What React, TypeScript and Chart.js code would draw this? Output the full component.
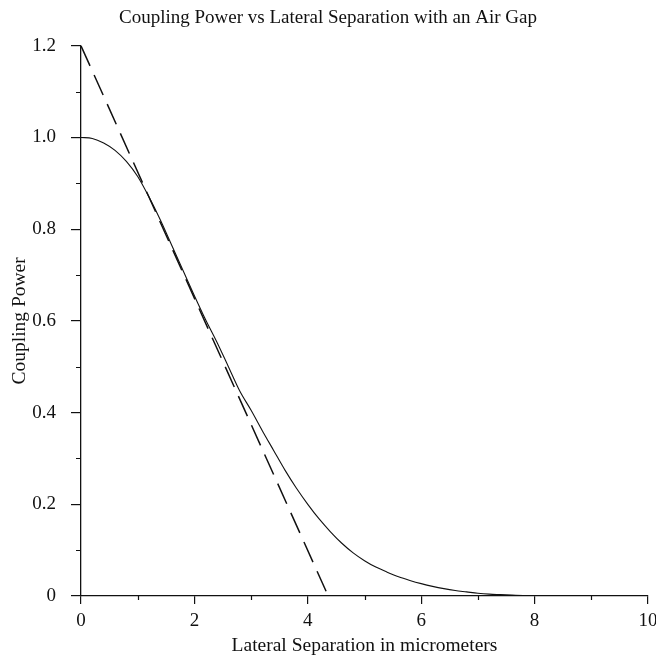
import React, { useEffect, useRef } from "react";
import { Chart, registerables } from "chart.js";

Chart.register(...registerables);

// Lateral offset (micrometers) and the coupled power
const separation = [
  0, 0.2, 0.4, 0.6, 0.8, 1.0, 1.2, 1.4, 1.6, 1.8, 2.0, 2.2, 2.4, 2.6, 2.8, 3.0,
  3.2, 3.4, 3.6, 3.8, 4.0, 4.2, 4.4, 4.6, 4.8, 5.0, 5.2, 5.4, 5.6, 5.8, 6.0, 6.2,
  6.4, 6.6, 6.8, 7.0, 7.2, 7.4, 7.6, 7.8,
];
const couplingPower = [
  1.0, 0.998, 0.988, 0.972, 0.948, 0.915, 0.87, 0.82, 0.765, 0.71, 0.655, 0.602,
  0.553, 0.5, 0.447, 0.405, 0.36, 0.317, 0.274, 0.235, 0.2, 0.168, 0.14, 0.115,
  0.094, 0.077, 0.063, 0.052, 0.042, 0.034, 0.027, 0.021, 0.016, 0.012, 0.009,
  0.006, 0.004, 0.003, 0.002, 0.001,
];

// Straight-line approximation (tangent through the inflection region)
const tangentX = [0, 4.36];
const tangentY = [1.2, 0];

const xTickLabels = ["0", "2", "4", "6", "8", "10"];
const yTickLabels = ["0", "0.2", "0.4", "0.6", "0.8", "1.0", "1.2"];
// Unlabelled minor tick positions between the labelled ones
const xMinorTicks = [1, 3, 5, 7, 9];
const yMinorTicks = [0.1, 0.3, 0.5, 0.7, 0.9, 1.1];

const SERIF = "'Liberation Serif', 'Times New Roman', serif";
const INK = "#111";

// Draws the short minor tick marks on both axes, placed by the chart's scales
const minorTicksPlugin = {
  id: "minorTicks",
  afterDraw(chart: any) {
    const { ctx, scales } = chart;
    const xs = scales.x;
    const ys = scales.y;
    ctx.save();
    ctx.strokeStyle = INK;
    ctx.lineWidth = 1.2;
    ctx.beginPath();
    for (const v of xMinorTicks) {
      const px = Math.round(xs.getPixelForValue(v)) + 0.5;
      ctx.moveTo(px, ys.bottom);
      ctx.lineTo(px, ys.bottom + 4);
    }
    for (const v of yMinorTicks) {
      const py = Math.round(ys.getPixelForValue(v)) + 0.5;
      ctx.moveTo(xs.left, py);
      ctx.lineTo(xs.left - 5, py);
    }
    ctx.stroke();
    ctx.restore();
  },
};

export default function App() {
  const canvasRef = useRef<HTMLCanvasElement | null>(null);

  useEffect(() => {
    const canvas = canvasRef.current;
    if (!canvas) return;
    const chart = new Chart(canvas, {
      type: "line",
      data: {
        datasets: [
          {
            label: "Coupling Power",
            data: separation.map((x, i) => ({ x, y: couplingPower[i] })),
            borderColor: INK,
            borderWidth: 1.1,
            pointRadius: 0,
            cubicInterpolationMode: "monotone",
            fill: false,
          },
          {
            label: "Linear approximation",
            data: tangentX.map((x, i) => ({ x, y: tangentY[i] })),
            borderColor: INK,
            borderWidth: 1.5,
            borderDash: [22, 10],
            pointRadius: 0,
            fill: false,
          },
        ],
      },
      plugins: [minorTicksPlugin],
      options: {
        animation: false,
        responsive: false,
        layout: { padding: { left: 8, right: 8, top: 0, bottom: 2 } },
        plugins: {
          legend: { display: false },
          tooltip: { enabled: false },
          title: {
            display: true,
            text: "Coupling Power vs Lateral Separation with an Air Gap",
            color: INK,
            font: { family: SERIF, size: 19, weight: "normal" },
            padding: { top: 7, bottom: 16 },
          },
        },
        scales: {
          x: {
            type: "linear",
            min: 0,
            max: 10,
            afterFit: (scale: any) => {
              scale.paddingRight = 0;
              scale.height = 62;
            },
            border: { display: true, color: INK, width: 1.3 },
            grid: {
              display: true,
              drawOnChartArea: false,
              drawTicks: true,
              tickLength: 8,
              color: INK,
              lineWidth: 1.2,
            },
            ticks: {
              stepSize: 2,
              color: INK,
              padding: 8,
              maxRotation: 0,
              autoSkip: false,
              font: { family: SERIF, size: 19, lineHeight: 1.0 },
              callback: (_v, i) => xTickLabels[i] ?? "",
            },
            title: {
              display: true,
              text: "Lateral Separation in micrometers",
              color: INK,
              font: { family: SERIF, size: 19.5 },
              padding: { top: 4, bottom: 0 },
            },
          },
          y: {
            type: "linear",
            min: 0,
            max: 1.2,
            afterFit: (scale: any) => {
              scale.width = 73;
            },
            border: { display: true, color: INK, width: 1.3 },
            grid: {
              display: true,
              drawOnChartArea: false,
              drawTicks: true,
              tickLength: 10,
              color: INK,
              lineWidth: 1.2,
            },
            ticks: {
              stepSize: 0.2,
              color: INK,
              padding: 15,
              autoSkip: false,
              font: { family: SERIF, size: 19 },
              callback: (_v, i) => yTickLabels[i] ?? "",
            },
            title: {
              display: true,
              text: "Coupling Power",
              color: INK,
              font: { family: SERIF, size: 19.5 },
              padding: { top: 0, bottom: 2 },
            },
          },
        },
      },
    });
    return () => chart.destroy();
  }, []);

  return (
    <div
      style={{
        position: "absolute",
        left: 0,
        top: 0,
        width: 656,
        height: 660,
        background: "#fff",
      }}
    >
      <canvas ref={canvasRef} width={656} height={660} />
    </div>
  );
}
